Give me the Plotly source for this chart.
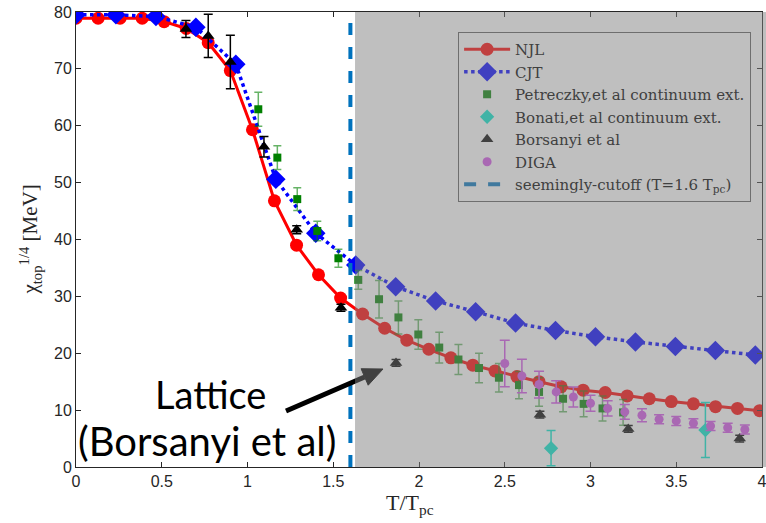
import plotly.graph_objects as go

# ---------------- data ----------------
T_njl = [0.0, 0.129, 0.257, 0.386, 0.514, 0.643, 0.771, 0.900, 1.029, 1.157, 1.286,
         1.414, 1.543, 1.671, 1.800, 1.929, 2.057, 2.186, 2.314, 2.443, 2.571, 2.700,
         2.829, 2.957, 3.086, 3.214, 3.343, 3.471, 3.600, 3.729, 3.857, 3.986]
chi_njl = [78.9, 78.9, 78.9, 78.9, 78.3, 77.1, 74.6, 69.7, 59.3, 46.8, 39.0,
           33.8, 29.7, 26.9, 24.4, 22.3, 20.7, 19.2, 17.9, 16.9, 15.9, 15.0,
           14.1, 13.5, 13.1, 12.5, 12.0, 11.5, 11.1, 10.6, 10.3, 9.9]

T_cjt = [0.0, 0.233, 0.466, 0.699, 0.932, 1.165, 1.398, 1.631, 1.864, 2.097,
         2.330, 2.563, 2.796, 3.029, 3.262, 3.495, 3.728, 3.961]
chi_cjt = [79.5, 79.5, 79.2, 77.3, 70.8, 50.6, 41.1, 35.5, 31.7, 29.2,
           27.3, 25.3, 24.0, 22.9, 22.0, 21.2, 20.5, 19.7]

T_pet = [1.063, 1.174, 1.290, 1.407, 1.530, 1.646, 1.767, 1.880, 1.996, 2.118,
         2.230, 2.350, 2.466, 2.583, 2.700, 2.840, 2.960, 3.070, 3.190]
chi_pet = [62.9, 54.4, 47.1, 41.5, 36.7, 32.9, 29.5, 26.3, 23.3, 21.0,
           18.9, 17.4, 15.7, 14.4, 13.2, 12.0, 11.1, 10.3, 9.6]
err_pet = [3.0, 2.1, 2.0, 1.7, 1.6, 1.65, 3.3, 2.9, 2.6, 2.7,
           2.65, 2.6, 2.5, 2.4, 2.5, 2.3, 2.25, 2.2, 2.25]

T_bon = [2.77, 3.67]
chi_bon = [3.3, 6.5]
err_bon = [3.1, 4.85]

T_bor = [0.641, 0.771, 0.900, 1.096, 1.287, 1.545, 1.866, 2.705, 3.220, 3.870]
chi_bor = [77.0, 75.8, 71.2, 56.3, 41.7, 28.0, 18.3, 9.2, 6.7, 5.0]
err_bor = [1.5, 3.8, 4.7, 1.8, 0.7, 0.6, 0.6, 0.6, 0.6, 0.6]

T_diga = [2.50, 2.60, 2.70, 2.80, 2.90, 3.00, 3.10, 3.20, 3.30, 3.40, 3.50, 3.60, 3.70, 3.80, 3.90]
chi_diga = [18.2, 16.0, 14.5, 13.2, 12.3, 11.2, 10.3, 9.7, 9.1, 8.4, 8.1, 7.7, 7.2, 6.9, 6.6]
err_diga = [4.1, 2.95, 2.35, 1.95, 1.75, 1.4, 1.35, 1.3, 1.15, 0.8, 0.8, 0.8, 0.8, 0.8, 0.8]

T_cut = 1.6
cut_y = [0, 80]

x_ticks = [0, 0.5, 1, 1.5, 2, 2.5, 3, 3.5, 4]
x_ticktext = ["0", "0.5", "1", "1.5", "2", "2.5", "3", "3.5", "4"]
y_ticks = [0, 10, 20, 30, 40, 50, 60, 70, 80]

names = ["NJL", "CJT", "Petreczky,et al continuum ext.", "Bonati,et al continuum ext.",
         "Borsanyi et al", "DIGA", "seemingly-cutoff (T=1.6 T<sub>pc</sub>)"]

# ---------------- styles ----------------
RED = "#FF0000"
BLUE = "#0000FF"
GREEN = "#008000"
TEAL = "#00E6CC"
BLACK = "#000000"
PURPLE = "#D250E6"
CUTBLUE = "#0072BD"


def dim(hexc, a=0.5, c=128):
    h = hexc.lstrip("#")
    r, g, b = int(h[0:2], 16), int(h[2:4], 16), int(h[4:6], 16)
    f = lambda v: int(round(v * (1 - a) + c * a))
    return f"rgb({f(r)},{f(g)},{f(b)})"


fig = go.Figure()

fig.add_trace(go.Scatter(x=T_njl, y=chi_njl, mode="lines+markers", showlegend=False,
                         line=dict(color=RED, width=3),
                         marker=dict(symbol="circle", size=13, color=RED)))
fig.add_trace(go.Scatter(x=T_cjt, y=chi_cjt, mode="lines+markers", showlegend=False,
                         line=dict(color=BLUE, width=3.5, dash="dot"),
                         marker=dict(symbol="diamond", size=15, color=BLUE)))
fig.add_trace(go.Scatter(x=T_pet, y=chi_pet, mode="markers", showlegend=False,
                         marker=dict(symbol="square", size=8, color=GREEN),
                         error_y=dict(type="data", array=err_pet, color="rgba(0,128,0,0.6)",
                                      thickness=1.5, width=4)))
fig.add_trace(go.Scatter(x=T_bon, y=chi_bon, mode="markers", showlegend=False,
                         marker=dict(symbol="diamond", size=11, color=TEAL),
                         error_y=dict(type="data", array=err_bon, color=TEAL,
                                      thickness=1.5, width=4.5)))
fig.add_trace(go.Scatter(x=T_bor, y=chi_bor, mode="markers", showlegend=False,
                         marker=dict(symbol="triangle-up", size=11, color=BLACK),
                         error_y=dict(type="data", array=err_bor, color=BLACK,
                                      thickness=1.5, width=4.5)))
fig.add_trace(go.Scatter(x=T_diga, y=chi_diga, mode="markers", showlegend=False,
                         marker=dict(symbol="circle", size=9, color=PURPLE),
                         error_y=dict(type="data", array=err_diga, color=PURPLE,
                                      thickness=1.5, width=5)))
fig.add_trace(go.Scatter(x=[T_cut, T_cut], y=cut_y, mode="lines", showlegend=False,
                         line=dict(color=CUTBLUE, width=4, dash="12px,12px")))

# legend entries (legend sits under the grey overlay in the original -> dimmed colours)
leg = [
    dict(mode="lines+markers", line=dict(color=dim(RED), width=3),
         marker=dict(symbol="circle", size=13, color=dim(RED))),
    dict(mode="lines+markers", line=dict(color=dim(BLUE), width=3.5, dash="dot"),
         marker=dict(symbol="diamond", size=15, color=dim(BLUE))),
    dict(mode="markers", marker=dict(symbol="square", size=8, color=dim(GREEN))),
    dict(mode="markers", marker=dict(symbol="diamond", size=11, color=dim(TEAL))),
    dict(mode="markers", marker=dict(symbol="triangle-up", size=11, color=dim(BLACK))),
    dict(mode="markers", marker=dict(symbol="circle", size=9, color=dim(PURPLE))),
    dict(mode="lines", line=dict(color=dim(CUTBLUE), width=4, dash="12px,12px")),
]
for nm, kw in zip(names, leg):
    fig.add_trace(go.Scatter(x=[None], y=[None], name=nm, showlegend=True, **kw))

# arrow (drawn under the grey overlay)
arrow_tail = (1.2245, 9.85)
arrow_base = (1.6831, 15.83)
arrow_tip = (1.7901, 17.23)
arrow_c1 = (1.7038, 14.38)
arrow_c2 = (1.6624, 17.28)

shapes = [
    dict(type="line", xref="x", yref="y", x0=arrow_tail[0], y0=arrow_tail[1],
         x1=arrow_base[0], y1=arrow_base[1], line=dict(color="black", width=5), layer="above"),
    dict(type="path", xref="x", yref="y",
         path=f"M {arrow_tip[0]},{arrow_tip[1]} L {arrow_c1[0]},{arrow_c1[1]} L {arrow_c2[0]},{arrow_c2[1]} Z",
         fillcolor="black", line=dict(color="black", width=1), layer="above"),
    dict(type="rect", xref="paper", yref="paper", x0=1.627 / 4, x1=1.006, y0=0, y1=1,
         fillcolor="rgba(128,128,128,0.5)", line=dict(width=0), layer="above"),
]

annotations = [
    dict(text="Lattice", x=0.787, y=12.8, xref="x", yref="y", showarrow=False,
         font=dict(family="Lato", size=38, color="black")),
    dict(text="(Borsanyi et al)", x=0.766, y=4.6, xref="x", yref="y", showarrow=False,
         font=dict(family="Lato", size=40, color="black")),
    # axis titles
    dict(text="T/T<sub>pc</sub>", x=0.487, y=-0.046, xref="paper", yref="paper",
         xanchor="center", yanchor="top", showarrow=False,
         font=dict(family="Liberation Serif", size=22, color="#262626")),
    dict(text="χ<sub>top</sub><sup>1/4</sup> [MeV]", x=-0.067, y=0.5, xref="paper", yref="paper",
         xanchor="center", yanchor="middle", textangle=-90, showarrow=False,
         font=dict(family="Liberation Serif", size=21, color="#262626")),
]

axis_common = dict(showgrid=False, zeroline=False, showline=True, linecolor="#262626",
                   linewidth=1, mirror="ticks", ticks="inside", ticklen=5, tickcolor="#262626",
                   ticklabeloverflow="allow", automargin=False,
                   tickfont=dict(family="Liberation Sans", size=16, color="#262626"))

fig.update_layout(
    width=766, height=523,
    margin=dict(l=76, r=4, t=12, b=56, autoexpand=False),
    plot_bgcolor="white", paper_bgcolor="white",
    xaxis=dict(range=[0, 4], tickvals=x_ticks, ticktext=x_ticktext, **axis_common),
    yaxis=dict(range=[0, 80], tickvals=y_ticks, **axis_common),
    legend=dict(x=0.557, y=0.956, xanchor="left", yanchor="top",
                bgcolor="rgba(0,0,0,0)", bordercolor="rgb(110,110,110)", borderwidth=1,
                font=dict(family="DejaVu Serif", size=15, color="rgb(64,64,64)"),
                itemwidth=46, tracegroupgap=0),
    shapes=shapes,
    annotations=annotations,
)

fig.write_html("out.html")
